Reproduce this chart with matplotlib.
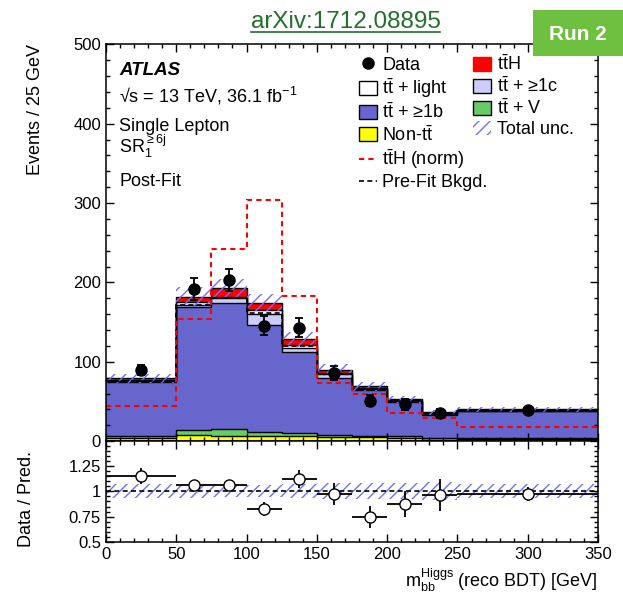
import numpy as np
import matplotlib
matplotlib.use("Agg")
import matplotlib.pyplot as plt
from matplotlib.patches import Patch, Rectangle
from matplotlib.lines import Line2D
from matplotlib.ticker import MultipleLocator

plt.rcParams['font.family'] = ['Liberation Sans', 'DejaVu Sans']
plt.rcParams['mathtext.fontset'] = 'custom'
plt.rcParams['mathtext.rm'] = 'Liberation Sans'
plt.rcParams['mathtext.it'] = 'Liberation Sans:italic'
plt.rcParams['mathtext.bf'] = 'Liberation Sans:bold'
plt.rcParams['hatch.linewidth'] = 1.0

# bin edges in GeV
edges = [0, 50, 75, 100, 125, 150, 175, 200, 225, 250, 350]

# post-fit stack (events / 25 GeV), bottom to top
non_tt = [4, 8, 7, 6, 6, 5, 5, 4, 2, 3]
tt_v = [2, 6, 8, 5, 4, 3, 2, 2, 2, 1]
tt_b = [68, 155.6, 159, 135.5, 102.8, 71, 57.4, 43.6, 28.8, 33.9]
tt_c = [2, 1.5, 6, 13.5, 5, 5.6, 1.6, 1.4, 1.2, 0.6]
tt_light = [1, 4.5, 2, 5, 3, 1.4, 1.3, 1, 1, 0.5]
tth = [2, 6, 11, 9.7, 7.4, 3.6, 2.1, 1, 1.6, 1]
tot_unc = [0.07, 0.07, 0.06, 0.06, 0.07, 0.08, 0.08, 0.08, 0.09, 0.07]

prefit = [76, 172, 180, 162, 120, 85, 66, 51, 34, 38]
tth_norm = [44, 154, 242, 304, 183, 72.8, 59.7, 35.8, 29.5, 18]

data = [89.6, 192, 203, 145.6, 143, 86, 51, 46.3, 35, 38.7]
data_err = [6.5, 14, 14, 12, 12, 9, 7, 7, 6, 3]

ratio = [1.15, 1.067, 1.067, 0.827, 1.127, 0.977, 0.743, 0.873, 0.967, 0.973]
ratio_err = [0.08, 0.05, 0.05, 0.07, 0.09, 0.11, 0.11, 0.13, 0.16, 0.07]

c_nontt = '#ffff00'
c_ttv = '#66cc66'
c_ttb = '#6666cc'
c_ttc = '#ccccff'
c_light = '#ffffff'
c_tth = '#ff0000'
c_hatch = '#6f6fff'

edges = np.array(edges, dtype=float)
centers = 0.5 * (edges[1:] + edges[:-1])
halfw = 0.5 * (edges[1:] - edges[:-1])

fig = plt.figure(figsize=(6.23, 6.02), dpi=100)
ax = fig.add_axes([0.170, 0.2671, 0.790, 0.6593])
ax2 = fig.add_axes([0.170, 0.1002, 0.790, 0.1669])

# stacked histograms
layers = [(non_tt, c_nontt), (tt_v, c_ttv), (tt_b, c_ttb),
          (tt_c, c_ttc), (tt_light, c_light), (tth, c_tth)]
base = np.zeros(len(data))
for vals, col in layers:
    top = base + np.array(vals)
    ax.stairs(top, edges, baseline=base, fill=True, facecolor=col,
              edgecolor='none', zorder=1)
    ax.stairs(top, edges, baseline=None, color='black', lw=1.0, zorder=1.5)
    base = top
total = base

# uncertainty band
unc = np.array(tot_unc)
ax.stairs(total * (1 + unc), edges, baseline=total * (1 - unc), fill=True,
          facecolor='none', edgecolor=c_hatch, hatch='///', lw=0, zorder=2)

ax.stairs(prefit, edges, baseline=None, color='black', lw=1.2,
          linestyle=(0, (3, 2)), zorder=2.2)
ax.stairs(tth_norm, edges, baseline=None, color='red', lw=1.5,
          linestyle=(0, (2.5, 2)), zorder=2.2)

ax.errorbar(centers, data, yerr=data_err, fmt='o', color='black', ms=8,
            capsize=3, elinewidth=1.3, capthick=1.3, zorder=3)

ax.set_xlim(0, 350)
ax.set_ylim(0, 500)
ax.xaxis.set_major_locator(MultipleLocator(50))
ax.xaxis.set_minor_locator(MultipleLocator(10))
ax.yaxis.set_major_locator(MultipleLocator(100))
ax.yaxis.set_minor_locator(MultipleLocator(20))
ax.tick_params(labelbottom=False)
ax.set_ylabel('Events / 25 GeV', fontsize=13, loc='top')
ax.yaxis.set_label_coords(-0.125, 1.0)

for a in (ax, ax2):
    a.tick_params(which='both', direction='in', top=True, right=True,
                  labelsize=12, width=1.0)
    a.tick_params(which='major', length=6)
    a.tick_params(which='minor', length=3)
    for s in a.spines.values():
        s.set_linewidth(1.1)

# labels
tr = ax.transAxes
ax.text(0.027, 0.9227, 'ATLAS', transform=tr, fontsize=13.5,
        fontweight='bold', fontstyle='italic', va='baseline')
ax.text(0.027, 0.8529, '\u221as = 13 TeV, 36.1 fb$^{-1}$', transform=tr,
        fontsize=13, va='baseline')
ax.text(0.027, 0.7823, 'Single Lepton', transform=tr, fontsize=13,
        va='baseline')
ax.text(0.027, 0.7269, r'SR$_{1}^{\geq \mathrm{6j}}$', transform=tr,
        fontsize=13, va='baseline')
ax.text(0.027, 0.6437, 'Post-Fit', transform=tr, fontsize=13, va='baseline')

# legend
tt = r'$\mathrm{t\bar{t}}$'
h_data = Line2D([], [], marker='o', color='black', ls='none', ms=8)
box = dict(edgecolor='black', lw=1.0)
handles = [h_data,
           Patch(facecolor=c_light, **box),
           Patch(facecolor=c_ttb, **box),
           Patch(facecolor=c_nontt, **box),
           Patch(facecolor=c_tth, edgecolor=c_tth, lw=1.0),
           Patch(facecolor=c_ttc, **box),
           Patch(facecolor=c_ttv, **box),
           Patch(facecolor='none', edgecolor=c_hatch, hatch='///', lw=0)]
labels = ['Data', tt + ' + light', tt + ' + \u22651b', 'Non-' + tt,
          tt + 'H', tt + ' + \u22651c', tt + ' + V', 'Total unc.']
leg1 = ax.legend(handles, labels, ncol=2, loc='upper left',
                 bbox_to_anchor=(0.514, 0.974), frameon=False, fontsize=13,
                 borderpad=0, borderaxespad=0, handlelength=1.0,
                 handleheight=0.8, handletextpad=0.3, columnspacing=1.4,
                 labelspacing=0.15)
ax.add_artist(leg1)
h_lines = [Line2D([], [], color='red', lw=1.5, ls=(0, (2.5, 2))),
           Line2D([], [], color='black', lw=1.2, ls=(0, (3, 2)))]
ax.legend(h_lines, [tt + 'H (norm)', 'Pre-Fit Bkgd.'], loc='upper left',
          bbox_to_anchor=(0.514, 0.7387), frameon=False, fontsize=13,
          borderpad=0, borderaxespad=0, handlelength=1.0,
          handletextpad=0.3, labelspacing=0.15)

# ratio panel
ax2.stairs(1 + unc, edges, baseline=1 - unc, fill=True, facecolor='none',
           edgecolor=c_hatch, hatch='///', lw=0, zorder=1)
ax2.axhline(1, color='black', lw=1.2, ls=(0, (3, 2)), zorder=1.5)
ax2.errorbar(centers, ratio, xerr=halfw, yerr=ratio_err, fmt='o',
             color='black', mfc='white', mec='black', ms=8, mew=1.0,
             elinewidth=1.3, capsize=0, zorder=3)
ax2.set_xlim(0, 350)
ax2.set_ylim(0.5, 1.5)
ax2.set_yticks([0.5, 0.75, 1, 1.25, 1.5], labels=['0.5', '0.75', '1', '1.25', ''])
ax2.yaxis.set_minor_locator(MultipleLocator(0.05))
ax2.xaxis.set_major_locator(MultipleLocator(50))
ax2.xaxis.set_minor_locator(MultipleLocator(10))
ax2.set_ylabel('Data / Pred.', fontsize=13)
ax2.yaxis.set_label_coords(-0.145, 0.42)
ax2.set_xlabel(r'm$_{\mathrm{bb}}^{\mathrm{Higgs}}$ (reco BDT) [GeV]',
               fontsize=13, loc='right')

# header decorations
arx = fig.text(0.5546, 0.953, 'arXiv:1712.08895', color='#23702a',
               fontsize=17.5, ha='center', va='baseline')
fig.canvas.draw()
bb = arx.get_window_extent().transformed(fig.transFigure.inverted())
fig.add_artist(Line2D([bb.x0, bb.x1], [0.9463, 0.9463], color='#23702a',
                      lw=1.2, transform=fig.transFigure))
fig.add_artist(Rectangle((0.8555, 0.907), 0.1445, 0.076, facecolor='#6fbf40',
                         edgecolor='none', transform=fig.transFigure,
                         zorder=5))
fig.text(0.928, 0.9435, 'Run 2', color='white', fontsize=15,
         fontweight='bold', ha='center', va='center', zorder=6)

fig.savefig('out.png', dpi=100)
